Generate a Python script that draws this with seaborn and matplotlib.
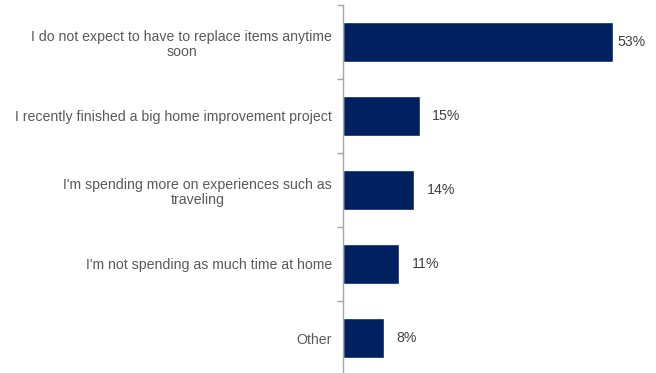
import matplotlib
matplotlib.use("Agg")
import matplotlib.pyplot as plt
import seaborn as sns
import pandas as pd

reasons = [
    "I do not expect to have to replace items anytime\nsoon",
    "I recently finished a big home improvement project",
    "I'm spending more on experiences such as\ntraveling",
    "I'm not spending as much time at home",
    "Other",
]
shares = [53, 15, 14, 11, 8]
value_labels = ["53%", "15%", "14%", "11%", "8%"]

df = pd.DataFrame({"reason": reasons, "share": shares})

sns.set_theme(style="white")
plt.rcParams["font.family"] = ["Liberation Sans", "DejaVu Sans"]

fig = plt.figure(figsize=(6.56, 3.73), dpi=100)
ax = fig.add_axes([343 / 656, -2 / 373, 306 / 656, 370 / 373])

sns.barplot(data=df, y="reason", x="share", orient="h", color="#002060",
            width=0.54, saturation=1, ax=ax)

ax.set_xlim(0, 60)
ax.set_ylim(4.5, -0.5)
ax.set_xlabel("")
ax.set_ylabel("")
ax.set_xticks([])

for side in ["top", "right", "bottom"]:
    ax.spines[side].set_visible(False)
ax.spines["left"].set_color("#a6a6a6")
ax.spines["left"].set_linewidth(1.0)

ax.set_yticks(range(len(reasons)))
ax.set_yticklabels(reasons, fontsize=10.2, color="#595959",
                   multialignment="center", linespacing=1.15)
ax.tick_params(axis="y", which="major", left=True, length=0, pad=8)
ax.set_yticks([i - 0.5 for i in range(len(reasons) + 1)], minor=True)
ax.tick_params(axis="y", which="minor", left=True, length=4, width=1,
               color="#a6a6a6", direction="out")

top = max(shares)
for i, (v, lab) in enumerate(zip(shares, value_labels)):
    off = 3 if v == top else 9
    ax.annotate(lab, xy=(v, i), xytext=(off, 0), textcoords="offset points",
                ha="left", va="center", fontsize=10.2, color="#404040")

fig.savefig("out.png", dpi=100)
